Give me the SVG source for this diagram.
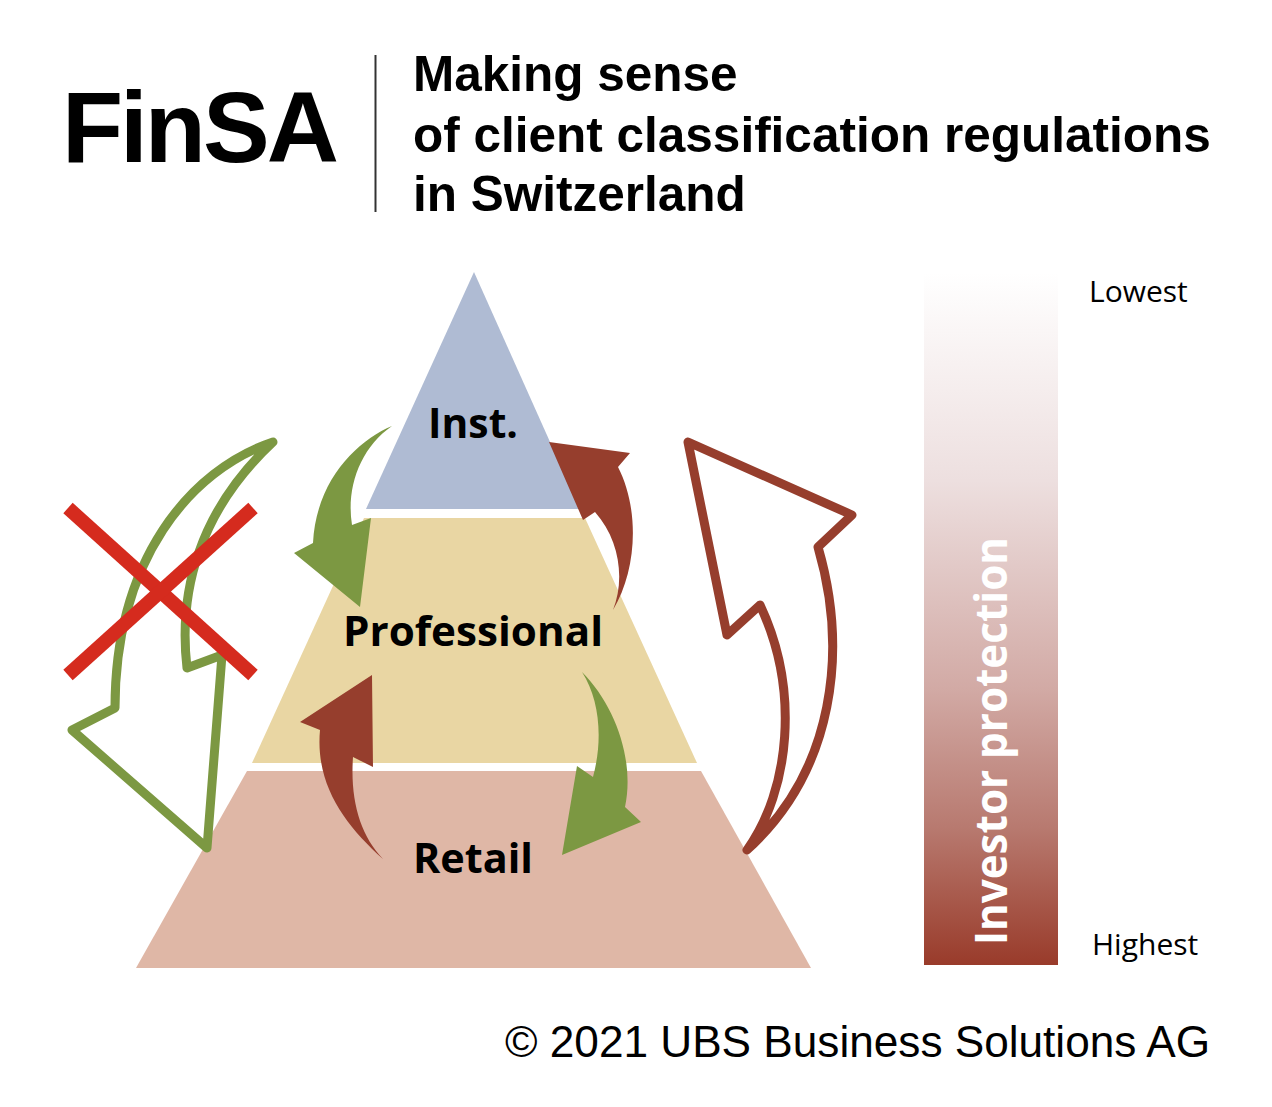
<svg xmlns="http://www.w3.org/2000/svg" width="1272" height="1107" viewBox="0 0 1272 1107">
  <defs>
    <linearGradient id="prot" x1="0" y1="0" x2="0" y2="1">
      <stop offset="0" stop-color="#ffffff"/>
      <stop offset="0.3" stop-color="#eddfdf"/>
      <stop offset="0.6" stop-color="#d2aaa5"/>
      <stop offset="0.8" stop-color="#b87a70"/>
      <stop offset="1" stop-color="#993b2a"/>
    </linearGradient>
    <style>
      .title { font-family: "Liberation Sans", Arial, sans-serif; font-weight: bold; fill: #000; }
      .lvl { font-family: "Open Sans", "Noto Sans", sans-serif; font-weight: bold; font-size: 42px; fill: #000; text-anchor: middle; }
      .side { font-family: "Open Sans", "Noto Sans", sans-serif; font-size: 30px; fill: #000; }
      .green { fill: #7c9842; }
      .brown { fill: #963e2d; }
      .gline { fill: none; stroke: #7c9842; stroke-width: 9; stroke-linejoin: round; stroke-linecap: round; }
      .bline { fill: none; stroke: #963e2d; stroke-width: 9; stroke-linejoin: round; stroke-linecap: round; }
    </style>
  </defs>
  <rect width="1272" height="1107" fill="#ffffff"/>

  <g id="header">
    <text class="title" x="62" y="162" font-size="100" letter-spacing="-3">FinSA</text>
    <line x1="375.5" y1="55" x2="375.5" y2="212" stroke="#333" stroke-width="2"/>
    <text class="title" font-size="49.5">
      <tspan x="413" y="91">Making sense</tspan>
      <tspan x="413" y="152">of client classification regulations</tspan>
      <tspan x="413" y="211">in Switzerland</tspan>
    </text>
  </g>

  <g id="retail">
    <polygon points="247,771 701,771 811,968 136,968" fill="#dfb7a6"/>
    <text class="lvl" x="473" y="873" textLength="120" lengthAdjust="spacingAndGlyphs">Retail</text>
  </g>
  <g id="professional">
    <polygon points="364,518 585,518 697,763 252,763" fill="#e9d6a3"/>
  </g>
  <g id="institutional">
    <polygon points="474,272 580,509 366,509" fill="#afbbd3"/>
    <text class="lvl" x="473" y="438" textLength="90" lengthAdjust="spacingAndGlyphs">Inst.</text>
  </g>

  <g id="protection-scale">
    <rect x="924" y="273" width="134" height="692" fill="url(#prot)"/>
    <text transform="translate(1007,945) rotate(-90)" x="0" y="0" font-family="Open Sans, Noto Sans, sans-serif" font-weight="bold" font-size="44" fill="#ffffff" textLength="408" lengthAdjust="spacingAndGlyphs">Investor protection</text>
    <text class="side" x="1089" y="302">Lowest</text>
    <text class="side" x="1092" y="955">Highest</text>
  </g>

  <g id="connectors">
    <path class="green" d="M392,426 C358,440 316,480 313,543 L294,553 L360,607 L371,518 L352,525 C346,488 360,448 392,426 Z"/>
    <path class="brown" d="M613,610 C637,570 640,510 618,467 L630,453 L549,442 L583,520 L595,512 C620,540 625,580 613,610 Z"/>
    <path class="brown" d="M383,859 C345,825 315,785 320,730 L300,722 L372,675 L373,767 L353,757 C350,800 360,835 383,859 Z"/>
    <path class="green" d="M582,672 C615,705 635,760 625,807 L641,822 L562,855 L577,766 L593,777 C603,740 600,700 582,672 Z"/>
    <path class="gline" d="M273,442 C190,470 115,560 115,708 L72,730 L207,848 L222,655 L187,668 C178,590 200,510 273,442 Z"/>
    <path class="bline" d="M688,442 L852,515 L818,547 C848,650 835,770 747,850 C790,790 800,690 760,605 L727,635 Z"/>
  </g>

  <g id="professional-label">
    <text class="lvl" x="473" y="646" textLength="260" lengthAdjust="spacingAndGlyphs">Professional</text>
  </g>

  <g id="cross">
    <line x1="68" y1="508" x2="253" y2="675" stroke="#d52b1e" stroke-width="14"/>
    <line x1="253" y1="508" x2="68" y2="675" stroke="#d52b1e" stroke-width="14"/>
  </g>

  <g id="footer">
    <text x="505" y="1057" font-family="Liberation Sans, Arial, sans-serif" font-size="44" fill="#000" textLength="705" lengthAdjust="spacingAndGlyphs">© 2021 UBS Business Solutions AG</text>
  </g>
</svg>
